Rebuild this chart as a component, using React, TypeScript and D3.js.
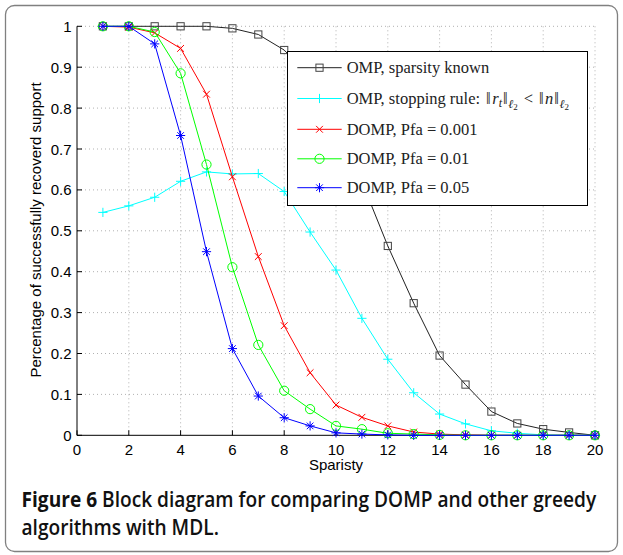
import React, { useLayoutEffect, useRef, useState } from "react";
import * as d3 from "d3";

const sparsity = [1,2,3,4,5,6,7,8,9,10,11,12,13,14,15,16,17,18,19,20];
const ompKnown = [1,1,1,1,1,0.995,0.98,0.942,0.875,0.77,0.62,0.463,0.323,0.195,0.124,0.058,0.029,0.015,0.007,0];
const ompStop = [0.545,0.561,0.582,0.621,0.644,0.639,0.640,0.596,0.497,0.404,0.286,0.186,0.104,0.052,0.028,0.011,0.005,0.001,0,0];
const domp001 = [1,0.998,0.984,0.946,0.834,0.632,0.437,0.268,0.153,0.074,0.044,0.023,0.008,0.003,0.001,0,0,0,0,0];
const domp01 = [1,1,0.986,0.885,0.662,0.411,0.221,0.109,0.064,0.023,0.015,0.005,0.003,0.001,0,0,0,0,0,0];
const domp05 = [1,1,0.957,0.733,0.449,0.212,0.096,0.043,0.023,0.006,0.003,0.001,0,0,0,0,0,0,0,0];

const xTicks = [0,2,4,6,8,10,12,14,16,18,20];
const yTicks = [0,0.1,0.2,0.3,0.4,0.5,0.6,0.7,0.8,0.9,1];

type Series = { name: string; values: number[]; color: string; marker: string };
const series: Series[] = [
  { name: "ompKnown", values: ompKnown, color: "#222222", marker: "square" },
  { name: "ompStop", values: ompStop, color: "#00ffff", marker: "plus" },
  { name: "domp001", values: domp001, color: "#ff0000", marker: "x" },
  { name: "domp01", values: domp01, color: "#00ff00", marker: "circle" },
  { name: "domp05", values: domp05, color: "#0000ff", marker: "star" },
];

const x = d3.scaleLinear().domain([0, 20]).range([77, 595]);
const y = d3.scaleLinear().domain([0, 1]).range([435.3, 26.3]);

function Marker({ type, cx, cy, color }: { type: string; cx: number; cy: number; color: string }) {
  const sw = 1;
  if (type === "square") {
    return <rect x={cx - 3.6} y={cy - 3.6} width={7.2} height={7.2} fill="none" stroke="#444" strokeWidth={sw} />;
  }
  if (type === "circle") {
    return <circle cx={cx} cy={cy} r={4.6} fill="none" stroke={color} strokeWidth={sw} />;
  }
  if (type === "plus") {
    const h = 4.6;
    return <path d={`M${cx - h},${cy}H${cx + h}M${cx},${cy - h}V${cy + h}`} stroke={color} strokeWidth={sw} fill="none" />;
  }
  if (type === "x") {
    const h = 3.4;
    return <path d={`M${cx - h},${cy - h}L${cx + h},${cy + h}M${cx - h},${cy + h}L${cx + h},${cy - h}`} stroke={color} strokeWidth={sw} fill="none" />;
  }
  const h = 4.6;
  const d = 3.3;
  return (
    <path
      d={`M${cx - h},${cy}H${cx + h}M${cx},${cy - h}V${cy + h}M${cx - d},${cy - d}L${cx + d},${cy + d}M${cx - d},${cy + d}L${cx + d},${cy - d}`}
      stroke={color}
      strokeWidth={sw}
      fill="none"
    />
  );
}

export default function App() {
  const line = d3
    .line<number>()
    .x((_, i) => x(sparsity[i]))
    .y((v) => y(v));

  const cap1 = useRef<SVGTextElement>(null);
  const [sx, setSx] = useState<number | null>(null);
  useLayoutEffect(() => {
    if (cap1.current && sx === null) {
      const n1 = cap1.current.getComputedTextLength();
      setSx(n1 > 0 ? 575 / n1 : 1);
    }
  }, [sx]);

  const legendX = 287.5;
  const legendY = 51.5;
  const legendW = 300;
  const legendH = 154;
  const rowY = [67.7, 98.5, 129.3, 158.8, 187.7];
  const serif = "'Liberation Serif', 'Times New Roman', serif";
  const sans = "'Liberation Sans', Arial, Helvetica, sans-serif";
  const s = sx ?? 1;

  return (
    <svg width={623} height={555} style={{ position: "absolute", left: 0, top: 0, background: "#fff" }}>
      <rect x={5.5} y={5.5} width={612} height={546} rx={9} fill="#fff" stroke="#808080" strokeWidth={1.3} />

      {/* grid */}
      <g stroke="#a8a8a8" strokeWidth={0.9} strokeDasharray="1,3">
        {xTicks.filter((t) => t > 0).map((t) => (
          <line key={"gx" + t} x1={x(t)} x2={x(t)} y1={y(0)} y2={y(1)} />
        ))}
        {yTicks.filter((t) => t > 0).map((t) => (
          <line key={"gy" + t} x1={x(0)} x2={x(20)} y1={y(t)} y2={y(t)} />
        ))}
      </g>

      {/* axes */}
      <g stroke="#000" strokeWidth={1}>
        <line x1={x(0)} x2={x(20)} y1={y(0)} y2={y(0)} />
        <line x1={x(0)} x2={x(0)} y1={y(0)} y2={y(1)} />
        {xTicks.map((t) => (
          <line key={"tx" + t} x1={x(t)} x2={x(t)} y1={y(0)} y2={y(0) - 5} />
        ))}
        {yTicks.map((t) => (
          <line key={"ty" + t} x1={x(0)} x2={x(0) + 5} y1={y(t)} y2={y(t)} />
        ))}
      </g>
      <g fontFamily={sans} fontSize={15} fill="#000">
        {xTicks.map((t) => (
          <text key={"lx" + t} x={x(t)} y={454.5} textAnchor="middle">
            {t}
          </text>
        ))}
        {yTicks.map((t) => (
          <text key={"ly" + t} x={71.5} y={y(t)} textAnchor="end" dominantBaseline="central">
            {t === 0 || t === 1 ? String(t) : t.toFixed(1)}
          </text>
        ))}
        <text x={336} y={470} textAnchor="middle">Sparisty</text>
        <text x={0} y={0} transform={`translate(40.5,230) rotate(-90)`} textAnchor="middle">
          Percentage of successfully recoverd support
        </text>
      </g>

      {/* series */}
      {series.map((sr) => (
        <g key={sr.name}>
          <path d={line(sr.values) || ""} fill="none" stroke={sr.color} strokeWidth={1} />
          {sr.values.map((v, i) => (
            <Marker key={i} type={sr.marker} cx={x(sparsity[i])} cy={y(v)} color={sr.color} />
          ))}
        </g>
      ))}

      {/* legend */}
      <rect x={legendX} y={legendY} width={legendW} height={legendH} fill="#fff" stroke="#000" strokeWidth={1} />
      {series.map((sr, i) => (
        <g key={"lg" + sr.name}>
          <line x1={297.3} x2={341.7} y1={rowY[i]} y2={rowY[i]} stroke={sr.color} strokeWidth={1} />
          <Marker type={sr.marker} cx={319.5} cy={rowY[i]} color={sr.color} />
        </g>
      ))}
      <g fontFamily={serif} fontSize={16.5} fill="#222">
        <text x={346.7} y={rowY[0] + 5.6}>OMP, sparsity known</text>
        <text x={346.7} y={rowY[1] + 5.6}>
          <tspan>OMP, stopping rule:</tspan>
          <tspan dx={6}>‖</tspan>
          <tspan dx={1.5} fontStyle="italic">r</tspan>
          <tspan fontSize={12} fontStyle="italic" dy={3}>t</tspan>
          <tspan dx={1} dy={-3}>‖</tspan>
          <tspan dx={0.5} fontSize={12} fontStyle="italic" dy={4}>ℓ</tspan>
          <tspan fontSize={9} dy={2}>2</tspan>
          <tspan dx={6} dy={-6}>&lt;</tspan>
          <tspan dx={6}>‖</tspan>
          <tspan dx={1.5} fontStyle="italic">n</tspan>
          <tspan dx={1}>‖</tspan>
          <tspan dx={0.5} fontSize={12} fontStyle="italic" dy={4}>ℓ</tspan>
          <tspan fontSize={9} dy={2}>2</tspan>
        </text>
        <text x={346.7} y={rowY[2] + 5.6}>DOMP, Pfa = 0.001</text>
        <text x={346.7} y={rowY[3] + 5.6}>DOMP, Pfa = 0.01</text>
        <text x={346.7} y={rowY[4] + 5.6}>DOMP, Pfa = 0.05</text>
      </g>

      {/* caption */}
      <g
        fontFamily="'Open Sans', 'Noto Sans', sans-serif"
        fontSize={21}
        fill="#111"
        transform={`translate(21.5,0) scale(${s},1)`}
      >
        <text ref={cap1} x={0} y={507}>
          <tspan fontWeight={700}>Figure 6</tspan>
          <tspan fontWeight={600}> Block diagram for comparing DOMP and other greedy</tspan>
        </text>
        <text x={0} y={535} fontWeight={600}>
          algorithms with MDL.
        </text>
      </g>
    </svg>
  );
}
